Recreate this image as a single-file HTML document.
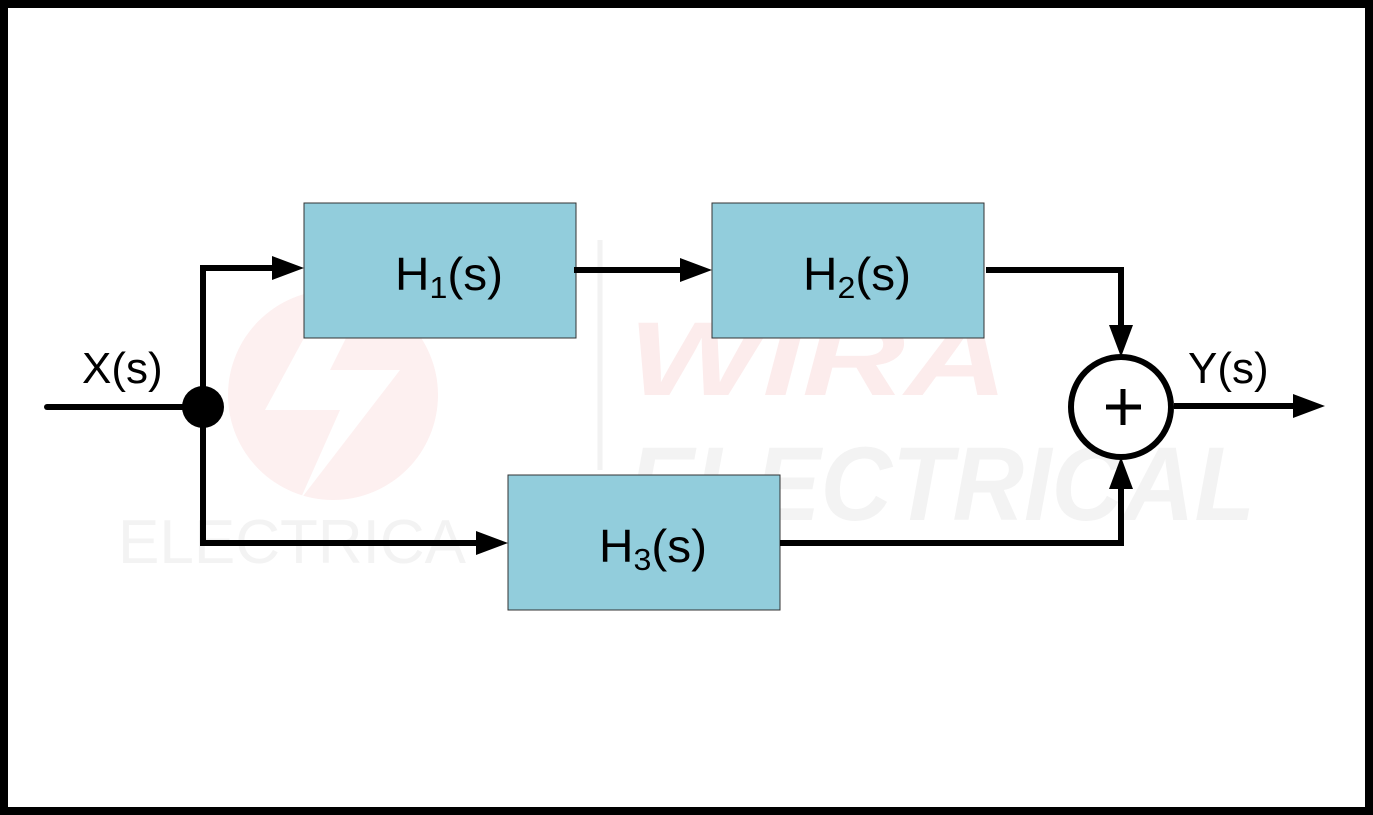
<!DOCTYPE html>
<html><head><meta charset="utf-8"><style>
html,body{margin:0;padding:0;background:#fff;}
svg{display:block;}
text{font-family:"Liberation Sans",sans-serif;}
</style></head><body>
<svg width="1373" height="815" viewBox="0 0 1373 815" xmlns="http://www.w3.org/2000/svg">
<rect x="4" y="4" width="1365" height="807" fill="#fff" stroke="#000" stroke-width="8"/>
<!-- watermark -->
<circle cx="333" cy="395" r="105" fill="#fdf0f0"/>
<path d="M330 290 L265 410 L340 410 L300 500 L400 370 L330 370 L370 290 Z" fill="#fff"/>
<line x1="600" y1="240" x2="600" y2="470" stroke="#f2f2f2" stroke-width="5"/>
<text x="628" y="395" font-size="105" font-weight="bold" font-style="italic" fill="#fcecec" textLength="380" lengthAdjust="spacingAndGlyphs">WIRA</text>
<text x="628" y="520" font-size="105" font-weight="bold" font-style="italic" fill="#f3f3f3" textLength="627" lengthAdjust="spacingAndGlyphs">ELECTRICAL</text>
<text x="118" y="563" font-size="62" fill="#f3f3f3">ELECTRICA</text>
<!-- boxes -->
<rect x="304" y="203" width="272" height="135" fill="#92CDDC" stroke="#333" stroke-width="1"/>
<rect x="712" y="203" width="272" height="135" fill="#92CDDC" stroke="#333" stroke-width="1"/>
<rect x="508" y="475" width="272" height="135" fill="#92CDDC" stroke="#333" stroke-width="1"/>
<text x="395" y="290" font-size="46" fill="#000" textLength="108" lengthAdjust="spacingAndGlyphs">H<tspan font-size="31" dy="8">1</tspan><tspan dy="-8">(s)</tspan></text>
<text x="803" y="290" font-size="46" fill="#000" textLength="108" lengthAdjust="spacingAndGlyphs">H<tspan font-size="31" dy="8">2</tspan><tspan dy="-8">(s)</tspan></text>
<text x="599" y="562" font-size="46" fill="#000" textLength="108" lengthAdjust="spacingAndGlyphs">H<tspan font-size="31" dy="8">3</tspan><tspan dy="-8">(s)</tspan></text>
<!-- lines -->
<g stroke="#000" stroke-width="6" fill="none" stroke-linejoin="miter">
<line x1="47" y1="407" x2="200" y2="407" stroke-linecap="round"/>
<polyline points="203,407 203,268 292,268"/>
<polyline points="203,407 203,543 496,543"/>
<line x1="574" y1="270" x2="700" y2="270"/>
<polyline points="986,270 1121,270 1121,345"/>
<polyline points="780,543 1121,543 1121,469"/>
<line x1="1174" y1="406" x2="1313" y2="406"/>
<circle cx="1121" cy="407" r="50" fill="#fff"/>
<line x1="1106" y1="407" x2="1141" y2="407" stroke-width="5"/>
<line x1="1123" y1="389" x2="1123" y2="425" stroke-width="5"/>
</g>
<g fill="#000">
<path d="M304,268 L272,256 L272,280 Z"/>
<path d="M508,543 L476,531 L476,555 Z"/>
<path d="M712,270 L680,258 L680,282 Z"/>
<path d="M1121,357 L1109,325 L1133,325 Z"/>
<path d="M1121,457 L1109,489 L1133,489 Z"/>
<path d="M1325,406 L1293,394 L1293,418 Z"/>
</g>
<circle cx="203" cy="407" r="21" fill="#000"/>
<text x="82" y="383" font-size="44" fill="#000">X(s)</text>
<text x="1188" y="383" font-size="44" fill="#000">Y(s)</text>
</svg>
</body></html>
